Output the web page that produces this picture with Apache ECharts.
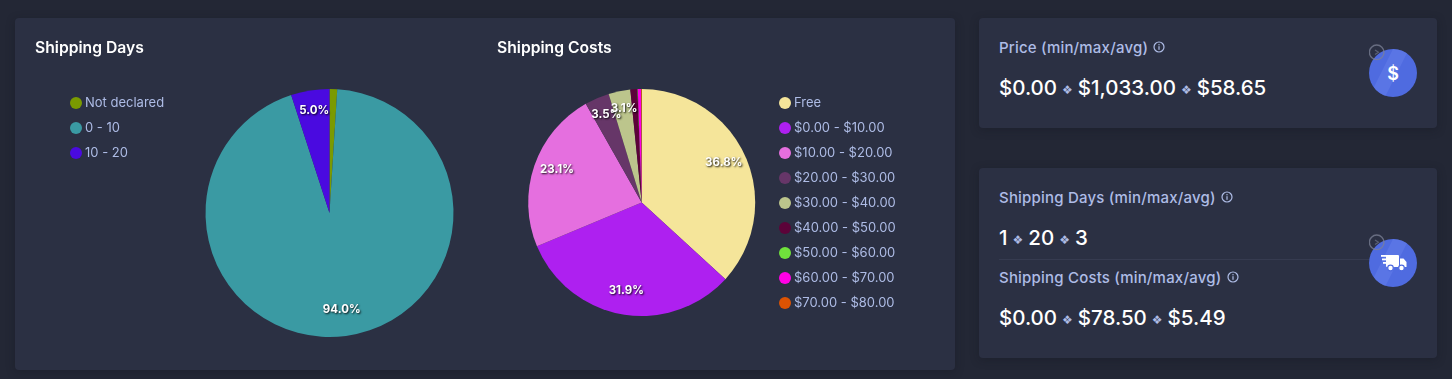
<!DOCTYPE html>
<html>
<head>
<meta charset="utf-8">
<script src="https://cdn.jsdelivr.net/npm/echarts@6/dist/echarts.min.js"></script>
<style>
html, body { margin:0; padding:0; width:1452px; height:379px; overflow:hidden; background:#232735; font-family:Inter, sans-serif; }
.box { position:absolute; background:#2b3043; border-radius:4px; box-shadow:0 2px 8px rgba(20,22,32,.35); }
#chart { position:absolute; left:0; top:0; width:960px; height:379px; }
.lbl { position:absolute; left:999px; color:#aebce6; font-size:15px; font-weight:500; line-height:20px; white-space:nowrap; letter-spacing:.2px; }
.lbl svg { vertical-align:0; margin-left:1px; }
.val { position:absolute; left:999px; color:#fff; font-size:20.5px; font-weight:500; line-height:28px; white-space:nowrap; }
.val i { font-style:normal; font-family:"DejaVu Sans"; font-size:12px; color:#aebce6; margin:0 5px; vertical-align:1px; }
.line { position:absolute; left:999px; width:372px; top:259px; height:1px; background:#363b50; }
.badge { position:absolute; left:1369px; width:48px; height:64px; }
</style>
</head>
<body>
<div class="box" style="left:15px;top:18px;width:940px;height:352px"></div>
<div class="box" style="left:979px;top:18px;width:458px;height:110px"></div>
<div class="box" style="left:979px;top:168px;width:458px;height:190px"></div>
<div id="chart"></div>
<div id="stats"></div>
<script>
// === ДАННЫЕ ===
const daysTitle = 'Shipping Days';
const daysNames = ['Not declared', '0 - 10', '10 - 20'];
const daysValues = [1.0, 94.0, 5.0];
const daysColors = ['#7a9a01', '#3a9aa3', '#4a0ae0'];

const costsTitle = 'Shipping Costs';
const costsNames = ['Free', '$0.00 - $10.00', '$10.00 - $20.00', '$20.00 - $30.00', '$30.00 - $40.00', '$40.00 - $50.00', '$50.00 - $60.00', '$60.00 - $70.00', '$70.00 - $80.00'];
const costsValues = [36.8, 31.9, 23.1, 3.5, 3.1, 1.0, 0.05, 0.45, 0.1];
const costsColors = ['#f5e59a', '#ae20f0', '#e56fdf', '#663668', '#bcc58c', '#5c0339', '#70e23c', '#ff00e6', '#dc5303'];

const statLabels = ['Price (min/max/avg)', 'Shipping Days (min/max/avg)', 'Shipping Costs (min/max/avg)'];
const statValues = [['$0.00', '$1,033.00', '$58.65'], ['1', '20', '3'], ['$0.00', '$78.50', '$5.49']];
const statLabelTops = [38, 188, 268];
const statValueTops = [74, 224, 304];

// === БЛОК СТАТИСТИКИ ===
function infoIcon() {
    return '<svg width="12" height="12" viewBox="0 0 12 12"><circle cx="6" cy="6" r="5" fill="none" stroke="#aebce6" stroke-width="1.2"/><rect x="5.4" y="5.2" width="1.2" height="3.6" fill="#aebce6"/><rect x="5.4" y="3.1" width="1.2" height="1.2" fill="#aebce6"/></svg>';
}

function badge(top, id, icon) {
    return `<svg class="badge" style="top:${top - 8}px" viewBox="0 0 48 64">
        <clipPath id="${id}"><circle cx="24" cy="32" r="24"/></clipPath>
        <circle cx="24" cy="32" r="24" fill="#4f6be0"/>
        <path d="M28 0 L44 0 L12 64 L-4 64 Z" fill="#6580ea" opacity=".5" clip-path="url(#${id})"/>
        <circle cx="7.7" cy="11.3" r="7.3" fill="none" stroke="#7c8296" stroke-opacity=".75" stroke-width="1.4"/>
        <path d="M6 9 L9.5 11.3 L6 13.6" fill="none" stroke="#7c8296" stroke-opacity=".6" stroke-width="1.2"/>
        ${icon}
    </svg>`;
}

function renderStats() {
    let html = '';
    statLabels.forEach((label, i) => {
        html += `<div class="lbl" style="top:${statLabelTops[i]}px">${label} ${infoIcon()}</div>`;
        html += `<div class="val" style="top:${statValueTops[i]}px">${statValues[i].join('<i>❖</i>')}</div>`;
    });
    html += '<div class="line"></div>';
    html += badge(49, 'clipA', '<text x="24" y="38.5" text-anchor="middle" font-family="Inter" font-weight="600" font-size="18" fill="#fff">$</text>');
    html += badge(239, 'clipB', '<g fill="#fff"><rect x="17" y="24" width="13" height="12" rx="1"/><path d="M31 27.5h3.5l3 3.5v5h-6.5z"/><rect x="12" y="24" width="8" height="1.8"/><rect x="13" y="27.5" width="7" height="1.8"/><rect x="14" y="31" width="6" height="1.8"/><circle cx="21.5" cy="37" r="2.8" stroke="#4f6be0" stroke-width="1.2"/><circle cx="32.5" cy="37" r="2.8" stroke="#4f6be0" stroke-width="1.2"/></g>');
    document.getElementById('stats').innerHTML = html;
}

// === ПИРОГИ ===
function toItems(names, values) {
    return names.map((name, i) => ({ name: name, value: values[i] }));
}

function pieSeries(names, values, colors, cx, cy, r) {
    return {
        type: 'pie',
        center: [cx, cy],
        radius: [0, r],
        startAngle: 90,
        clockwise: true,
        silent: true,
        animation: false,
        data: toItems(names, values),
        itemStyle: { color: p => colors[p.dataIndex] },
        labelLine: { show: false },
        label: {
            show: true,
            position: 'inside',
            formatter: p => p.value >= 3 ? p.value.toFixed(1) + '%' : '',
            color: '#fff',
            fontFamily: 'Inter',
            fontWeight: 700,
            fontSize: 11.5,
            textShadowColor: 'rgba(0,0,0,.9)',
            textShadowBlur: 2,
            textShadowOffsetX: 1,
            textShadowOffsetY: 1
        },
        // подпись ближе к краю, примерно 0.75 радиуса
        labelLayout: p => {
            const lx = p.labelRect.x + p.labelRect.width / 2;
            const ly = p.labelRect.y + p.labelRect.height / 2;
            return { dx: (lx - cx) * 0.5, dy: (ly - cy) * 0.55 - 3 };
        }
    };
}

function legendOf(names, left) {
    return {
        data: names,
        orient: 'vertical',
        left: left,
        top: 96,
        icon: 'circle',
        itemWidth: 12,
        itemHeight: 12,
        itemGap: 11,
        selectedMode: false,
        padding: 0,
        textStyle: { color: '#aebce6', fontFamily: 'Inter', fontSize: 13, height: 14, lineHeight: 14, padding: [0, 0, 0, -2] }
    };
}

function titleOf(text, left) {
    return { text: text, left: left, top: 40, padding: 0, textStyle: { color: '#fff', fontFamily: 'Inter', fontWeight: 600, fontSize: 15.7 } };
}

function render() {
    const chart = echarts.init(document.getElementById('chart'));
    chart.setOption({
        backgroundColor: 'transparent',
        title: [titleOf(daysTitle, 35), titleOf(costsTitle, 497)],
        legend: [legendOf(daysNames, 70), legendOf(costsNames, 779)],
        series: [
            pieSeries(daysNames, daysValues, daysColors, 329.5, 213, 124),
            pieSeries(costsNames, costsValues, costsColors, 641.7, 202.5, 113.5)
        ]
    });
}

// === ЗАПУСК ===
renderStats();
render();
</script>
</body>
</html>
